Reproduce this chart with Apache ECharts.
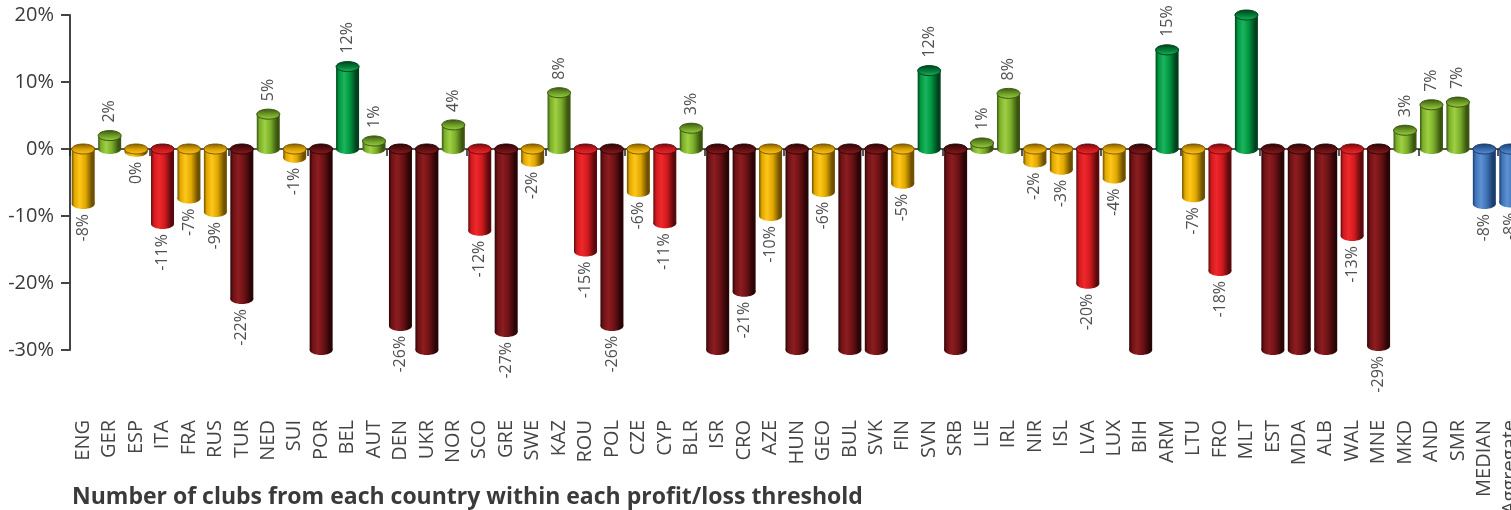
<!DOCTYPE html>
<html>
<head>
<meta charset="utf-8">
<script src="https://cdn.jsdelivr.net/npm/echarts@6/dist/echarts.min.js"></script>
<style>
html,body{margin:0;padding:0;background:#fff;overflow:hidden;}
#chart{width:1511px;height:510px;}
</style>
</head>
<body>
<div id="chart"></div>
<script>
var categories = ['ENG','GER','ESP','ITA','FRA','RUS','TUR','NED','SUI','POR','BEL','AUT','DEN','UKR','NOR','SCO','GRE','SWE','KAZ','ROU','POL','CZE','CYP','BLR','ISR','CRO','AZE','HUN','GEO','BUL','SVK','FIN','SVN','SRB','LIE','IRL','NIR','ISL','LVA','LUX','BIH','ARM','LTU','FRO','MLT','EST','MDA','ALB','WAL','MNE','MKD','AND','SMR','MEDIAN','Aggregate'];
// values in %, bars beyond the axis range (-30 / 20) are shown clipped without label
var values = [-8.2,2.0,-0.4,-11.2,-7.4,-9.4,-22.4,5.2,-1.3,-33,12.3,1.2,-26.4,-33,3.6,-12.2,-27.3,-1.9,8.4,-15.3,-26.4,-6.4,-11.1,3.1,-33,-21.3,-10.0,-33,-6.4,-33,-33,-5.2,11.7,-33,0.9,8.3,-2.0,-3.1,-20.1,-4.4,-33,14.8,-7.2,-18.2,22,-33,-33,-33,-13.0,-29.4,2.8,6.6,7.0,-8.2,-8.0];
var yTicks = {min:-30, max:20, interval:10};
var specialCats = ['MEDIAN','Aggregate'];

var palettes = {
  darkgreen: {dark:'#00401c', base:'#009640', light:'#1cb45e', cap:'#007a35', edge:'#00401c'},
  green:     {dark:'#3a5510', base:'#7aae2a', light:'#9fd044', cap:'#6b9a26', edge:'#3a5510'},
  yellow:    {dark:'#6e5000', base:'#e0a800', light:'#ffc61a', cap:'#d89e00', edge:'#7a5800'},
  red:       {dark:'#5a0a0c', base:'#d01a1e', light:'#f0282c', cap:'#c8181c', edge:'#6a0c0e'},
  darkred:   {dark:'#2a0506', base:'#6e1215', light:'#8c1d20', cap:'#5e0e10', edge:'#2a0506'},
  blue:      {dark:'#1d3d6c', base:'#3f73b8', light:'#5f92d4', cap:'#3568aa', edge:'#1d3d6c'}
};
function paletteFor(cat, v){
  if (specialCats.indexOf(cat) >= 0) return palettes.blue;
  if (v > 10) return palettes.darkgreen;
  if (v >= 0) return palettes.green;
  if (v >= -10) return palettes.yellow;
  if (v >= -20.5) return palettes.red;
  return palettes.darkred;
}

function renderItem(params, api){
  var i = params.dataIndex;
  var v = api.value(1);
  var vc = Math.max(Math.min(v, yTicks.max), yTicks.min);
  var p0 = api.coord([i, 0]);
  var p1 = api.coord([i, vc]);
  var bw = api.size([1, 0])[0] * 0.87;
  var cx = p0[0];
  var top = Math.min(p0[1], p1[1]), bot = Math.max(p0[1], p1[1]);
  var ry = 5;
  var pal = paletteFor(categories[i], v);
  var grad = new echarts.graphic.LinearGradient(0,0,1,0,[
    {offset:0, color:pal.dark},{offset:0.12, color:pal.base},{offset:0.35, color:pal.light},
    {offset:0.6, color:pal.base},{offset:0.88, color:pal.dark},{offset:1, color:pal.dark}]);
  var capGrad = new echarts.graphic.LinearGradient(0,0,0,1,[
    {offset:0, color:pal.edge},{offset:0.5, color:pal.cap},{offset:1, color:pal.light}]);
  var children = [
    {type:'ellipse', shape:{cx:cx, cy:bot, rx:bw/2, ry:ry}, style:{fill:grad}},
    {type:'rect', shape:{x:cx-bw/2, y:top, width:bw, height:bot-top}, style:{fill:grad}},
    {type:'ellipse', shape:{cx:cx, cy:top, rx:bw/2, ry:ry}, style:{fill:capGrad, stroke:pal.edge, lineWidth:1}}
  ];
  if (v > yTicks.min && v < yTicks.max){
    var txt = Math.round(v) + '%';
    if (txt === '-0%') txt = '0%';
    var pos = v >= 0;
    children.push({type:'text', x: cx, y: pos ? top - ry - 8 : bot + ry + 5, rotation: Math.PI/2,
      style:{text: txt, fill:'#505050', font:'16px "Open Sans", sans-serif',
        align: pos ? 'left' : 'right', verticalAlign:'middle'}});
  }
  return {type:'group', children: children};
}

var chart = echarts.init(document.getElementById('chart'));
chart.setOption({
  animation:false,
  backgroundColor:'#fff',
  title:{text:'Number of clubs from each country within each profit/loss threshold', left:67, top:481,
    textStyle:{fontFamily:'"Open Sans", sans-serif', fontSize:23, fontWeight:'bold', color:'#3a3a3a'}},
  grid:{left:70, top:15, height:335, width:1454, outerBoundsMode:'none', containLabel:false},
  xAxis:[
    {type:'category', data:categories, position:'top',
      axisLine:{onZero:true, lineStyle:{color:'#222', width:1.5}},
      axisTick:{show:true, inside:true, length:7, lineStyle:{color:'#222', width:1.5}},
      axisLabel:{show:false}},
    {type:'category', data:categories, position:'bottom',
      axisLine:{show:false, onZero:false}, axisTick:{show:false},
      axisLabel:{rotate:90, margin:70, interval:0, fontSize:20, color:'#444', fontFamily:'"Open Sans", sans-serif'}}
  ],
  yAxis:{type:'value', min:yTicks.min, max:yTicks.max, interval:yTicks.interval,
    axisLine:{show:true, lineStyle:{color:'#444', width:2}},
    axisTick:{show:true, length:9, lineStyle:{color:'#444', width:2}},
    splitLine:{show:false},
    axisLabel:{formatter:'{value}%', margin:16, fontSize:20, color:'#3a3a3a', fontFamily:'"Open Sans", sans-serif'}},
  series:[{type:'custom', xAxisIndex:0, renderItem:renderItem, clip:false,
    data: categories.map(function(c, i){ return [i, values[i]]; })}]
});
</script>
</body>
</html>
